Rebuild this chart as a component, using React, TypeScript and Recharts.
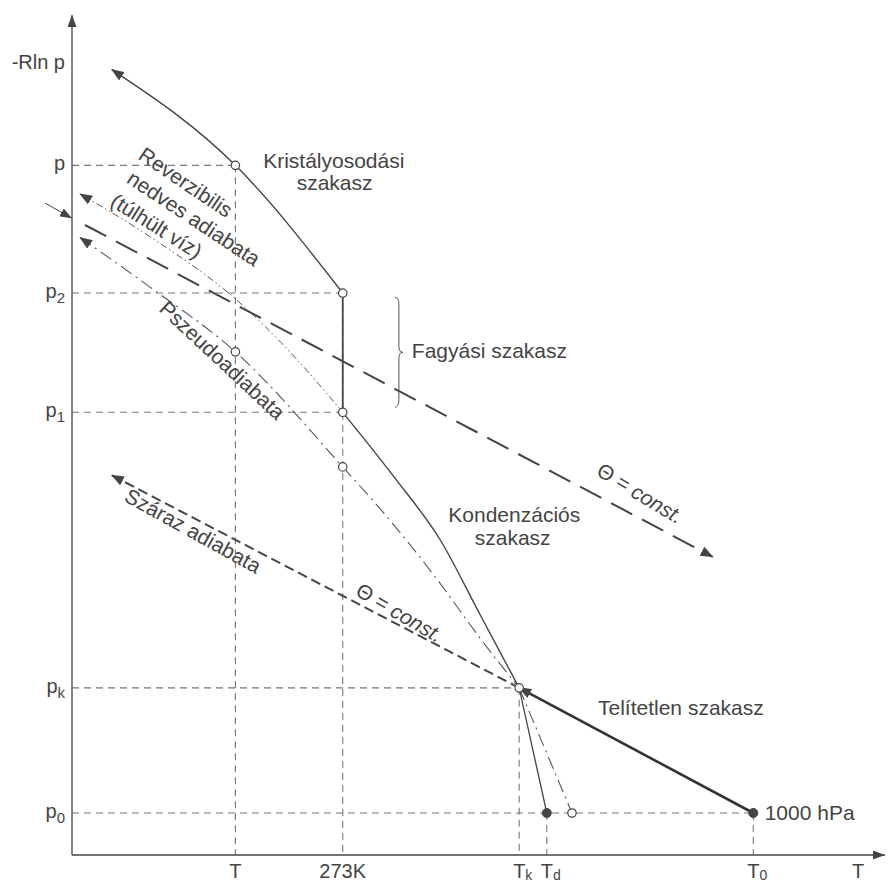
import React from 'react';
import {
    ComposedChart, Line, Scatter, XAxis, YAxis, ReferenceLine, ReferenceDot
} from 'recharts';

// characteristic temperatures on the T axis (arbitrary units)
const T_COLD = 20.1;
const T_FREEZE = 33.3; // 273K
const T_K = 55.0;
const T_D = 58.4;
const T_0 = 83.8;
const T_AXIS = 96.7;

// levels on the -R ln p axis (arbitrary units)
const P_0 = 5.0;
const P_K = 19.9;
const P_1 = 52.7;
const P_2 = 66.9;
const P_TOP = 82.1;
const P_AXIS = 94.2;

const xTicks = [T_COLD, T_FREEZE, T_K, T_D, T_0, T_AXIS];
const xTickMain = ['T', '273K', 'T', 'T', 'T', 'T'];
const xTickSub = ['', '', 'k', 'd', '0', ''];

const yTicks = [P_0, P_K, P_1, P_2, P_TOP, P_AXIS];
const yTickMain = ['p', 'p', 'p', 'p', 'p', '-Rln p'];
const yTickSub = ['0', 'k', '1', '2', '', ''];

// process curves
const crystallization = [
    { x: 4.9, y: 93.5 }, { x: T_COLD, y: P_TOP }, { x: T_FREEZE, y: P_2 },
];
const freezing = [{ x: T_FREEZE, y: P_2 }, { x: T_FREEZE, y: P_1 }];
const condensation = [
    { x: T_FREEZE, y: P_1 }, { x: 39.7, y: 44.9 }, { x: 45.3, y: 37.5 },
    { x: 50.2, y: 28.6 }, { x: T_K, y: P_K },
];
const toDewPoint = [{ x: T_K, y: P_K }, { x: T_D, y: P_0 }];
const unsaturated = [{ x: T_K, y: P_K }, { x: T_0, y: P_0 }];
const dryAdiabat = [{ x: 4.9, y: 45.2 }, { x: T_K, y: P_K }];
const thetaConst = [{ x: 1.6, y: 75.0 }, { x: 78.8, y: 35.5 }];
const reversible = [
    { x: 1.0, y: 78.7 }, { x: 9.6, y: 73.6 }, { x: T_COLD, y: 66.2 },
    { x: 26.8, y: 59.9 }, { x: T_FREEZE, y: P_1 },
];
const pseudo = [
    { x: 1.0, y: 73.5 }, { x: 9.6, y: 67.6 }, { x: T_COLD, y: 59.9 },
    { x: T_FREEZE, y: 46.2 }, { x: 39.5, y: 39.4 }, { x: 45.3, y: 32.3 },
    { x: 50.2, y: 25.8 }, { x: T_K, y: P_K },
];
const pseudoTail = [{ x: T_K, y: P_K }, { x: 61.5, y: P_0 }];

const openDots = [
    { x: T_COLD, y: P_TOP }, { x: T_FREEZE, y: P_2 }, { x: T_FREEZE, y: P_1 },
    { x: T_COLD, y: 59.9 }, { x: T_FREEZE, y: 46.2 }, { x: T_K, y: P_K },
    { x: 61.5, y: P_0 },
];
const filledDots = [{ x: T_D, y: P_0 }, { x: T_0, y: P_0 }];

// dashed helper lines [[x1, y1], [x2, y2]]
const guides = [
    [[0, P_TOP], [T_COLD, P_TOP]], [[T_COLD, P_TOP], [T_COLD, 0]],
    [[0, P_2], [T_FREEZE, P_2]], [[T_FREEZE, P_2], [T_FREEZE, 0]],
    [[0, P_1], [T_FREEZE, P_1]],
    [[0, P_K], [T_K, P_K]], [[T_K, P_K], [T_K, 0]],
    [[0, P_0], [T_0, P_0]], [[T_D, P_0], [T_D, 0]], [[T_0, P_0], [T_0, 0]],
];

// labels
const notes = [
    { text: 'Kristályosodási', x: 32.2, y: 81.8, angle: 0, anchor: 'middle' },
    { text: 'szakasz', x: 32.3, y: 79.2, angle: 0, anchor: 'middle' },
    { text: 'Fagyási szakasz', x: 41.8, y: 59.2, angle: 0, anchor: 'start' },
    { text: 'Kondenzációs', x: 54.4, y: 39.6, angle: 0, anchor: 'middle' },
    { text: 'szakasz', x: 54.2, y: 36.9, angle: 0, anchor: 'middle' },
    { text: 'Telítetlen szakasz', x: 64.7, y: 16.7, angle: 0, anchor: 'start' },
    { text: '1000 hPa', x: 85.2, y: 4.2, angle: 0, anchor: 'start' },
    { text: 'Reverzibilis', x: 14.0, y: 80.1, angle: 34, anchor: 'middle' },
    { text: 'nedves adiabata', x: 15.0, y: 75.8, angle: 33.5, anchor: 'middle' },
    { text: '(túlhült víz)', x: 10.4, y: 74.9, angle: 32, anchor: 'middle' },
    { text: 'Pszeudoadiabata', x: 18.5, y: 58.9, angle: 43, anchor: 'middle' },
    { text: 'Száraz adiabata', x: 14.9, y: 38.6, angle: 29, anchor: 'middle' },
    { text: 'Θ = |const.', x: 40.3, y: 28.9, angle: 30, anchor: 'middle' },
    { text: 'Θ = |const.', x: 69.9, y: 43.1, angle: 31, anchor: 'middle' },
];

const brace = [[40.7, 66.4], [40.7, 53.3]];
const pointer = [[-3.3, 77.6], [0, 75.8]];

const FONT = '"Liberation Sans", Arial, sans-serif';
const INK = '#444';

const XTick = (props: any) => {
    const { x, y, payload } = props;
    const i = xTicks.indexOf(payload.value);
    const sub = xTickSub[i];
    if (!sub) {
        return <text x={x} y={y + 15} textAnchor="middle" fontSize={20} fill={INK} fontFamily={FONT}>{xTickMain[i]}</text>;
    }
    return (
        <text x={x - 6} y={y + 15} textAnchor="start" fontSize={20} fill={INK} fontFamily={FONT}>
            {xTickMain[i]}<tspan dy={2} fontSize={14}>{sub}</tspan>
        </text>
    );
};

const YTick = (props: any) => {
    const { x, y, payload } = props;
    const i = yTicks.indexOf(payload.value);
    const sub = yTickSub[i];
    return (
        <text x={x} y={y + 5} textAnchor="end" fontSize={20} fill={INK} fontFamily={FONT}>
            {yTickMain[i]}{sub ? <tspan dy={5} fontSize={15}>{sub}</tspan> : null}
        </text>
    );
};

const Note = (props: any) => {
    const { cx, cy, note } = props;
    const [a, b] = note.text.split('|');
    return (
        <text x={cx} y={cy} textAnchor={note.anchor}
            dominantBaseline={note.angle ? 'central' : 'alphabetic'}
            transform={note.angle ? `rotate(${note.angle} ${cx} ${cy})` : undefined}
            fontSize={21} fill={INK} fontFamily={FONT}>
            {a}{b ? <tspan fontStyle="italic">{b}</tspan> : null}
        </text>
    );
};

const BraceShape = (props: any) => {
    const { x1, y1, y2 } = props;
    const s = x1 - 4;
    const m = (y1 + y2) / 2;
    const d = `M${s - 4},${y1} Q${s},${y1} ${s},${y1 + 8} L${s},${m - 6} Q${s},${m} ${s + 4},${m} `
        + `Q${s},${m} ${s},${m + 6} L${s},${y2 - 8} Q${s},${y2} ${s - 4},${y2}`;
    return <path d={d} fill="none" stroke="#555" strokeWidth={1} />;
};

const PointerShape = (props: any) => {
    const { x1, y1, x2, y2 } = props;
    return <line x1={x1} y1={y1} x2={x2} y2={y2} stroke="#444" strokeWidth={1} markerEnd="url(#smallArrow)" />;
};

const App: React.FC = () => {
    return (
        <div style={{ position: 'absolute', left: 0, top: 0, width: 889, height: 885, background: '#fff' }}>
            <svg width={0} height={0} style={{ position: 'absolute' }}>
                <defs>
                    <marker id="arrow" viewBox="0 0 13 10" refX={12} refY={5} markerWidth={13} markerHeight={10}
                        markerUnits="userSpaceOnUse" orient="auto-start-reverse">
                        <path d="M0,0 L13,5 L0,10 z" fill="#444" />
                    </marker>
                    <marker id="smallArrow" viewBox="0 0 12 9" refX={12} refY={4.5} markerWidth={12} markerHeight={9}
                        markerUnits="userSpaceOnUse" orient="auto-start-reverse">
                        <path d="M0,0 L12,4.5 L0,9 z" fill="#444" />
                    </marker>
                </defs>
            </svg>
            <ComposedChart width={889} height={885} margin={{ top: 15, right: 4, bottom: 0, left: 0 }}>
                <XAxis type="number" dataKey="x" domain={[0, 100]} ticks={xTicks} interval={0}
                    tick={<XTick />} tickLine={false} height={30}
                    axisLine={{ stroke: '#444', strokeWidth: 1.3, markerEnd: 'url(#smallArrow)' }} />
                <YAxis type="number" dataKey="y" domain={[0, 100]} ticks={yTicks} interval={0}
                    tick={<YTick />} tickLine={false} tickMargin={1} width={72}
                    axisLine={{ stroke: '#444', strokeWidth: 1.3, markerStart: 'url(#smallArrow)' }} />

                {guides.map((g, i) => (
                    <ReferenceLine key={`g${i}`} segment={[{ x: g[0][0], y: g[0][1] }, { x: g[1][0], y: g[1][1] }]}
                        stroke="#777" strokeWidth={1.1} strokeDasharray="7 5" ifOverflow="visible" />
                ))}

                <Line data={crystallization} dataKey="y" type="monotone" stroke="#444" strokeWidth={1.4}
                    dot={false} isAnimationActive={false} markerStart="url(#arrow)" />
                <Line data={freezing} dataKey="y" type="linear" stroke="#444" strokeWidth={1.8}
                    dot={false} isAnimationActive={false} />
                <Line data={condensation} dataKey="y" type="monotone" stroke="#444" strokeWidth={1.4}
                    dot={false} isAnimationActive={false} />
                <Line data={toDewPoint} dataKey="y" type="linear" stroke="#444" strokeWidth={1.3}
                    dot={false} isAnimationActive={false} />
                <Line data={reversible} dataKey="y" type="monotone" stroke="#555" strokeWidth={1}
                    strokeDasharray="7 3 1.5 3 1.5 3" dot={false} isAnimationActive={false} markerStart="url(#arrow)" />
                <Line data={pseudo} dataKey="y" type="monotone" stroke="#555" strokeWidth={1.1}
                    strokeDasharray="13 5 2 5" dot={false} isAnimationActive={false} markerStart="url(#arrow)" />
                <Line data={pseudoTail} dataKey="y" type="linear" stroke="#555" strokeWidth={1.1}
                    strokeDasharray="13 5 2 5" dot={false} isAnimationActive={false} />
                <Line data={thetaConst} dataKey="y" type="linear" stroke="#444" strokeWidth={2}
                    strokeDasharray="24 11" dot={false} isAnimationActive={false} markerEnd="url(#arrow)" />
                <Line data={dryAdiabat} dataKey="y" type="linear" stroke="#444" strokeWidth={2}
                    strokeDasharray="10 5" dot={false} isAnimationActive={false} markerStart="url(#arrow)" />
                <Line data={unsaturated} dataKey="y" type="linear" stroke="#333" strokeWidth={2.6}
                    dot={false} isAnimationActive={false} markerStart="url(#arrow)" />

                <Scatter data={openDots} isAnimationActive={false}
                    shape={(p: any) => <circle cx={p.cx} cy={p.cy} r={4.2} fill="#fff" stroke="#444" strokeWidth={1.2} />} />
                <Scatter data={filledDots} isAnimationActive={false}
                    shape={(p: any) => <circle cx={p.cx} cy={p.cy} r={4.5} fill="#444" stroke="#444" />} />

                <ReferenceLine segment={[{ x: brace[0][0], y: brace[0][1] }, { x: brace[1][0], y: brace[1][1] }]}
                    ifOverflow="visible" shape={<BraceShape />} />
                <ReferenceLine segment={[{ x: pointer[0][0], y: pointer[0][1] }, { x: pointer[1][0], y: pointer[1][1] }]}
                    ifOverflow="visible" shape={<PointerShape />} />

                {notes.map((n, i) => (
                    <ReferenceDot key={`n${i}`} x={n.x} y={n.y} r={0} ifOverflow="visible"
                        shape={(p: any) => <Note {...p} note={n} />} />
                ))}
            </ComposedChart>
        </div>
    );
};

export default App;
